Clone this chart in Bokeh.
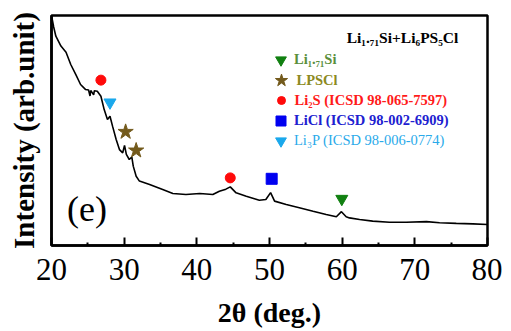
from bokeh.plotting import figure
from bokeh.models import Range1d, FixedTicker, Label, Legend, LegendItem
from bokeh.embed import file_html
from bokeh.resources import INLINE

# ---- data ----
two_theta = [20.0, 20.3, 20.6, 21.3, 22.0, 22.65, 23.35, 24.0, 24.7, 25.1, 25.3, 25.4,
             25.8, 25.9, 26.3, 26.8, 27.25, 27.7, 28.05, 28.4, 28.9, 29.35, 29.8, 30.05,
             30.3, 30.7, 31.05, 31.25, 31.65, 32.1, 33.5, 35.3, 36.7, 38.5, 40.4, 42.2,
             43.1, 44.0, 44.6, 45.4, 46.8, 48.6, 49.5, 50.15, 50.7, 52.3, 54.1, 56.0,
             57.8, 59.2, 59.9, 60.55, 61.0, 62.4, 64.2, 66.5, 68.8, 71.6, 73.4, 75.7,
             78.0, 80.0]
intensity = [100.0, 95.0, 91.0, 86.7, 84.0, 78.7, 74.3, 70.0, 67.8, 67.6, 65.0, 67.4,
             65.5, 67.3, 67.1, 64.9, 59.1, 54.8, 56.2, 51.9, 46.1, 41.7, 40.3, 43.5,
             39.6, 37.4, 38.5, 34.5, 30.1, 28.0, 26.5, 24.3, 22.6, 22.2, 22.6, 22.2,
             23.6, 24.5, 25.5, 22.9, 21.4, 19.7, 20.0, 23.0, 19.3, 17.8, 16.4, 14.9,
             13.5, 12.5, 14.7, 12.5, 12.0, 11.3, 10.6, 10.1, 10.1, 10.4, 9.9, 9.6,
             9.4, 9.1]

x_ticks = [20, 30, 40, 50, 60, 70, 80]
x_minor = [25, 35, 45, 55, 65, 75]

li171si_x = [59.95]
li171si_y = [20.3]
lpscl_x = [30.2, 31.65]
lpscl_y = [49.4, 41.3]
li2s_x = [26.8, 44.6]
li2s_y = [71.9, 29.4]
licl_x = [50.3]
licl_y = [29.0]
li3p_x = [28.05]
li3p_y = [62.2]

legend_labels = ["Li\u2081.\u2087\u2081Si", "LPSCl", "Li\u2082S (ICSD 98-065-7597)",
                 "LiCl (ICSD 98-002-6909)", "Li\u2083P (ICSD 98-006-0774)"]
title_text = "Li\u2081.\u2087\u2081Si+Li\u2086PS\u2085Cl"
panel_text = "(e)"
x_label = "2\u03b8 (deg.)"
y_label = "Intensity (arb.unit)"

SERIF = "'Liberation Serif', 'Times New Roman', serif"

p = figure(frame_width=436, frame_height=230,
           x_range=Range1d(20, 80), y_range=Range1d(0, 100),
           output_backend="svg", toolbar_location=None,
           min_border_left=51, min_border_top=15, min_border_right=15,
           min_border_bottom=60)
p.grid.visible = False
p.outline_line_color = "black"
p.outline_line_width = 2.5
p.background_fill_color = "white"
p.border_fill_color = "white"

# x axis
xa = p.xaxis[0]
xa.ticker = FixedTicker(ticks=x_ticks, minor_ticks=x_minor)
xa.major_tick_in = 8
xa.major_tick_out = 0
xa.major_tick_line_width = 2
xa.minor_tick_in = 3
xa.minor_tick_out = 0
xa.minor_tick_line_width = 2
xa.axis_line_width = 2.5
xa.major_label_text_font = SERIF
xa.major_label_text_font_size = "31px"
xa.major_label_text_color = "black"
xa.major_label_standoff = 13
xa.axis_label = x_label
xa.axis_label_text_font = SERIF
xa.axis_label_text_font_style = "bold"
xa.axis_label_text_font_size = "28px"
xa.axis_label_text_color = "black"
xa.axis_label_standoff = 14

# y axis
ya = p.yaxis[0]
ya.ticker = FixedTicker(ticks=[])
ya.major_tick_in = 0
ya.major_tick_out = 0
ya.minor_tick_in = 0
ya.minor_tick_out = 0
ya.axis_line_width = 2.5
ya.axis_label = y_label
ya.axis_label_text_font = SERIF
ya.axis_label_text_font_style = "bold"
ya.axis_label_text_font_size = "29px"
ya.axis_label_text_color = "black"
ya.axis_label_standoff = 12

# XRD trace
p.line(two_theta, intensity, line_color="black", line_width=1.6)

# peak markers
r_si = p.scatter(li171si_x, li171si_y, marker="inverted_triangle", size=12,
                 fill_color="#118011", line_color="#118011")
r_lp = p.scatter(lpscl_x, lpscl_y, marker="star", size=16,
                 fill_color="#735a1c", line_color="#735a1c")
r_s = p.scatter(li2s_x, li2s_y, marker="circle", size=10,
                fill_color="#ff0a0a", line_color="#ff0a0a")
r_cl = p.scatter(licl_x, licl_y, marker="square", size=11,
                 fill_color="#0000f0", line_color="#0000f0")
r_p = p.scatter(li3p_x, li3p_y, marker="inverted_triangle", size=12,
                fill_color="#1aa8ec", line_color="#1aa8ec")

# legend: one legend per entry so each label has its own colour
entries = [
    (r_si, legend_labels[0], "#5a8f3c", "bold", 27, 60.5),
    (r_lp, legend_labels[1], "#8c8a22", "bold", 32, 81.0),
    (r_s, legend_labels[2], "#ff1a1a", "bold", 20, 101.0),
    (r_cl, legend_labels[3], "#2020d0", "bold", 25, 121.0),
    (r_p, legend_labels[4], "#2aaaea", "normal", 27, 141.0),
]
frame_bottom_page = 246
marker_cx = 229.5   # relative to frame left
text_start = 243.0
for rend, lab, col, style, H, cy in entries:
    vy = (frame_bottom_page - cy) - H / 2.0
    lg = Legend(items=[LegendItem(label=lab, renderers=[rend])],
                location=(marker_cx - H / 2.0, vy),
                glyph_width=H, glyph_height=H, label_height=H, label_width=10,
                label_standoff=max(0, int(round(text_start - marker_cx - H / 2.0))),
                padding=0, margin=0, spacing=0,
                background_fill_alpha=0, border_line_alpha=0,
                label_text_font=SERIF, label_text_font_style=style,
                label_text_font_size="14.5px", label_text_color=col)
    p.add_layout(lg)

p.add_layout(Label(x=351, y=frame_bottom_page - 38, x_units="screen", y_units="screen",
                   text=title_text, text_font=SERIF, text_font_style="bold",
                   text_font_size="15.5px", text_color="black",
                   text_align="center", text_baseline="middle"))
p.add_layout(Label(x=35.5, y=frame_bottom_page - 209, x_units="screen", y_units="screen",
                   text=panel_text, text_font=SERIF, text_font_size="36px",
                   text_color="black", text_align="center", text_baseline="middle"))

open("out.html", "w").write(file_html(p, INLINE))
